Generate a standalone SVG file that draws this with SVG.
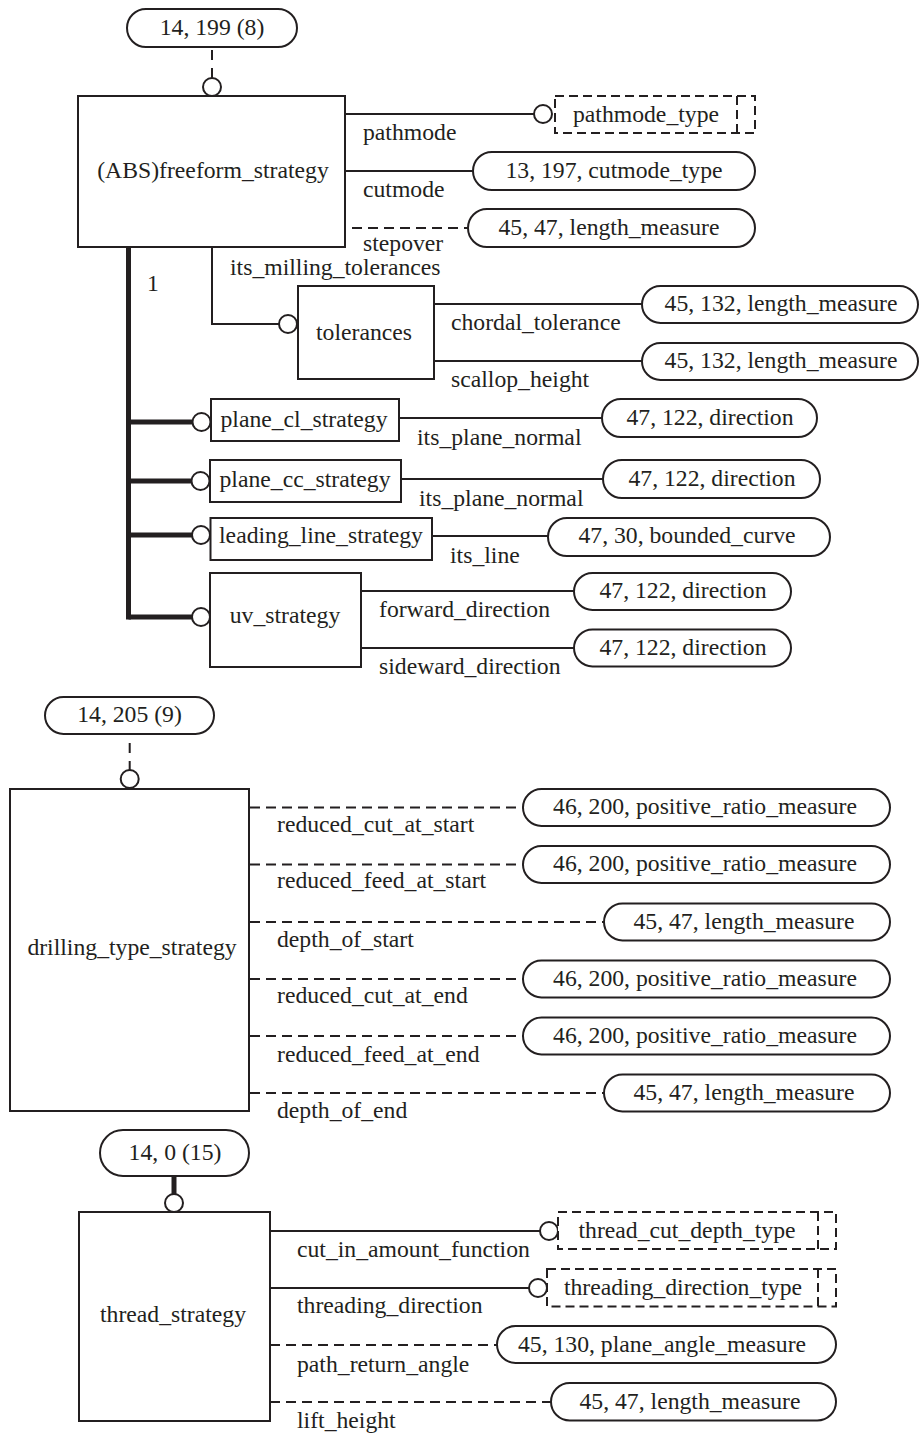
<svg xmlns="http://www.w3.org/2000/svg" width="920" height="1433" viewBox="0 0 920 1433">
<style>
text{font-family:"Liberation Serif","Times New Roman",serif;font-size:23.7px;fill:#231f20}
.c{text-anchor:middle}
.box{fill:#fff;stroke:#231f20;stroke-width:2}
.pill{fill:#fff;stroke:#231f20;stroke-width:2}
.dbox{fill:#fff;stroke:#231f20;stroke-width:2;stroke-dasharray:9 5}
.dv{fill:none;stroke:#231f20;stroke-width:2;stroke-dasharray:9 5}
.ln{fill:none;stroke:#231f20;stroke-width:2}
.dl{fill:none;stroke:#231f20;stroke-width:2;stroke-dasharray:10 6}
.dt{fill:none;stroke:#231f20;stroke-width:2;stroke-dasharray:10 8}
.thick{fill:none;stroke:#231f20;stroke-width:5}
.o{fill:#fff;stroke:#231f20;stroke-width:2}
</style>
<rect width="920" height="1433" fill="#fff"/>

<g id="connectors">
  <!-- top section -->
  <line class="dt" x1="212" y1="50" x2="212" y2="78"/>
  <circle class="o" cx="212" cy="87" r="9"/>
  <line class="ln" x1="345" y1="114" x2="534" y2="114"/>
  <circle class="o" cx="543" cy="114" r="9"/>
  <line class="ln" x1="345" y1="171" x2="473" y2="171"/>
  <line class="dl" x1="352" y1="228" x2="468" y2="228"/>
  <polyline class="ln" points="212,247 212,324 279,324"/>
  <circle class="o" cx="288" cy="324" r="9"/>
  <line class="ln" x1="434" y1="304" x2="642" y2="304"/>
  <line class="ln" x1="434" y1="361" x2="642" y2="361"/>
  <line class="thick" x1="128.5" y1="247" x2="128.5" y2="619.5"/>
  <line class="thick" x1="128.5" y1="422" x2="192.5" y2="422"/>
  <circle class="o" cx="201.5" cy="422" r="9"/>
  <line class="thick" x1="128.5" y1="481" x2="191" y2="481"/>
  <circle class="o" cx="200.5" cy="481" r="9"/>
  <line class="thick" x1="128.5" y1="535" x2="192" y2="535"/>
  <circle class="o" cx="201" cy="535" r="9"/>
  <line class="thick" x1="128.5" y1="617" x2="192" y2="617"/>
  <circle class="o" cx="201" cy="617" r="9"/>
  <line class="ln" x1="399" y1="418" x2="602" y2="418"/>
  <line class="ln" x1="401" y1="479" x2="603" y2="479"/>
  <line class="ln" x1="432" y1="536" x2="548" y2="536"/>
  <line class="ln" x1="361" y1="591" x2="574" y2="591"/>
  <line class="ln" x1="361" y1="648" x2="574" y2="648"/>
  <!-- middle section -->
  <line class="dt" x1="129.7" y1="743" x2="129.7" y2="770"/>
  <circle class="o" cx="129.7" cy="779" r="9"/>
  <line class="dl" x1="250" y1="807.5" x2="523" y2="807.5"/>
  <line class="dl" x1="250" y1="864.5" x2="523" y2="864.5"/>
  <line class="dl" x1="250" y1="922" x2="604" y2="922"/>
  <line class="dl" x1="250" y1="979" x2="523" y2="979"/>
  <line class="dl" x1="250" y1="1036" x2="523" y2="1036"/>
  <line class="dl" x1="250" y1="1093" x2="604" y2="1093"/>
  <!-- bottom section -->
  <line class="thick" x1="174" y1="1176" x2="174" y2="1195"/>
  <circle class="o" cx="174" cy="1203" r="9"/>
  <line class="ln" x1="270" y1="1231" x2="540" y2="1231"/>
  <circle class="o" cx="549" cy="1231" r="9"/>
  <line class="ln" x1="270" y1="1288" x2="529" y2="1288"/>
  <circle class="o" cx="538" cy="1288" r="9"/>
  <line class="dl" x1="270" y1="1345" x2="497" y2="1345"/>
  <line class="dl" x1="270" y1="1402" x2="551" y2="1402"/>
</g>

<g id="labels">
  <text x="363" y="140">pathmode</text>
  <text x="363" y="197">cutmode</text>
  <text x="363" y="251">stepover</text>
  <text x="230" y="275">its_milling_tolerances</text>
  <text x="147" y="291">1</text>
  <text x="451" y="330">chordal_tolerance</text>
  <text x="451" y="387">scallop_height</text>
  <text x="417" y="445">its_plane_normal</text>
  <text x="419" y="506">its_plane_normal</text>
  <text x="450" y="563">its_line</text>
  <text x="379" y="617">forward_direction</text>
  <text x="379" y="674">sideward_direction</text>
  <text x="277" y="832">reduced_cut_at_start</text>
  <text x="277" y="888">reduced_feed_at_start</text>
  <text x="277" y="947">depth_of_start</text>
  <text x="277" y="1003">reduced_cut_at_end</text>
  <text x="277" y="1062">reduced_feed_at_end</text>
  <text x="277" y="1118">depth_of_end</text>
  <text x="297" y="1257">cut_in_amount_function</text>
  <text x="297" y="1313">threading_direction</text>
  <text x="297" y="1372">path_return_angle</text>
  <text x="297" y="1428">lift_height</text>
</g>

<!-- top section nodes -->
<g id="ref-14-199">
  <rect class="pill" x="127" y="9" width="170" height="38" rx="19"/>
  <text class="c" x="212" y="35">14, 199 (8)</text>
</g>
<g id="freeform_strategy">
  <rect class="box" x="78" y="96" width="267" height="151"/>
  <text class="c" x="213" y="178">(ABS)freeform_strategy</text>
</g>
<g id="pathmode_type">
  <rect class="dbox" x="555" y="96" width="200" height="37"/>
  <line class="dv" x1="737" y1="96" x2="737" y2="133"/>
  <text class="c" x="646" y="122">pathmode_type</text>
</g>
<g id="cutmode_type">
  <rect class="pill" x="473" y="152" width="282" height="38" rx="19"/>
  <text class="c" x="614" y="178">13, 197, cutmode_type</text>
</g>
<g id="stepover_type">
  <rect class="pill" x="468" y="209" width="287" height="38" rx="19"/>
  <text class="c" x="609" y="235">45, 47, length_measure</text>
</g>
<g id="tolerances">
  <rect class="box" x="298" y="286" width="136" height="93"/>
  <text class="c" x="364" y="340">tolerances</text>
</g>
<g id="chordal_type">
  <rect class="pill" x="642" y="286" width="276" height="37" rx="18.5"/>
  <text class="c" x="781" y="311">45, 132, length_measure</text>
</g>
<g id="scallop_type">
  <rect class="pill" x="642" y="343" width="276" height="37" rx="18.5"/>
  <text class="c" x="781" y="368">45, 132, length_measure</text>
</g>
<g id="plane_cl_strategy">
  <rect class="box" x="211" y="399" width="188" height="42"/>
  <text class="c" x="304" y="427">plane_cl_strategy</text>
</g>
<g id="plane_cl_dir">
  <rect class="pill" x="602" y="399" width="215" height="38" rx="19"/>
  <text class="c" x="710" y="425">47, 122, direction</text>
</g>
<g id="plane_cc_strategy">
  <rect class="box" x="210" y="460" width="191" height="42"/>
  <text class="c" x="305" y="487">plane_cc_strategy</text>
</g>
<g id="plane_cc_dir">
  <rect class="pill" x="603" y="460" width="217" height="38" rx="19"/>
  <text class="c" x="712" y="486">47, 122, direction</text>
</g>
<g id="leading_line_strategy">
  <rect class="box" x="210.5" y="518" width="221.5" height="42"/>
  <text class="c" x="321" y="543">leading_line_strategy</text>
</g>
<g id="bounded_curve">
  <rect class="pill" x="548" y="518" width="282" height="38" rx="19"/>
  <text class="c" x="687" y="543">47, 30, bounded_curve</text>
</g>
<g id="uv_strategy">
  <rect class="box" x="210" y="573" width="151" height="94"/>
  <text class="c" x="285" y="623">uv_strategy</text>
</g>
<g id="forward_dir">
  <rect class="pill" x="574" y="573" width="217" height="37" rx="18.5"/>
  <text class="c" x="683" y="598">47, 122, direction</text>
</g>
<g id="sideward_dir">
  <rect class="pill" x="574" y="629.5" width="217" height="37" rx="18.5"/>
  <text class="c" x="683" y="655">47, 122, direction</text>
</g>

<!-- middle section nodes -->
<g id="ref-14-205">
  <rect class="pill" x="45" y="697" width="169" height="37" rx="18.5"/>
  <text class="c" x="129.5" y="722">14, 205 (9)</text>
</g>
<g id="drilling_type_strategy">
  <rect class="box" x="10" y="789" width="239" height="322"/>
  <text class="c" x="132" y="955">drilling_type_strategy</text>
</g>
<g id="rcs">
  <rect class="pill" x="523" y="789" width="367" height="37" rx="18.5"/>
  <text class="c" x="705" y="814">46, 200, positive_ratio_measure</text>
</g>
<g id="rfs">
  <rect class="pill" x="523" y="846" width="367" height="37" rx="18.5"/>
  <text class="c" x="705" y="871">46, 200, positive_ratio_measure</text>
</g>
<g id="dos">
  <rect class="pill" x="604" y="903.5" width="286" height="37" rx="18.5"/>
  <text class="c" x="744" y="928.5">45, 47, length_measure</text>
</g>
<g id="rce">
  <rect class="pill" x="523" y="960.5" width="367" height="37" rx="18.5"/>
  <text class="c" x="705" y="985.5">46, 200, positive_ratio_measure</text>
</g>
<g id="rfe">
  <rect class="pill" x="523" y="1017.5" width="367" height="37" rx="18.5"/>
  <text class="c" x="705" y="1042.5">46, 200, positive_ratio_measure</text>
</g>
<g id="doe">
  <rect class="pill" x="604" y="1074.5" width="286" height="37" rx="18.5"/>
  <text class="c" x="744" y="1099.5">45, 47, length_measure</text>
</g>

<!-- bottom section nodes -->
<g id="ref-14-0">
  <rect class="pill" x="100" y="1130" width="149" height="46" rx="23"/>
  <text class="c" x="175" y="1160">14, 0 (15)</text>
</g>
<g id="thread_strategy">
  <rect class="box" x="79" y="1212" width="191" height="209"/>
  <text class="c" x="173" y="1322">thread_strategy</text>
</g>
<g id="thread_cut_depth_type">
  <rect class="dbox" x="558" y="1212" width="278" height="37"/>
  <line class="dv" x1="818" y1="1212" x2="818" y2="1249"/>
  <text class="c" x="687" y="1238">thread_cut_depth_type</text>
</g>
<g id="threading_direction_type">
  <rect class="dbox" x="547" y="1269" width="289" height="37.5"/>
  <line class="dv" x1="818" y1="1269" x2="818" y2="1306.5"/>
  <text class="c" x="683" y="1295">threading_direction_type</text>
</g>
<g id="plane_angle">
  <rect class="pill" x="497" y="1326" width="339" height="37" rx="18.5"/>
  <text class="c" x="662" y="1352">45, 130, plane_angle_measure</text>
</g>
<g id="lift_len">
  <rect class="pill" x="551" y="1383" width="285" height="37.5" rx="18.75"/>
  <text class="c" x="690" y="1409">45, 47, length_measure</text>
</g>
</svg>
